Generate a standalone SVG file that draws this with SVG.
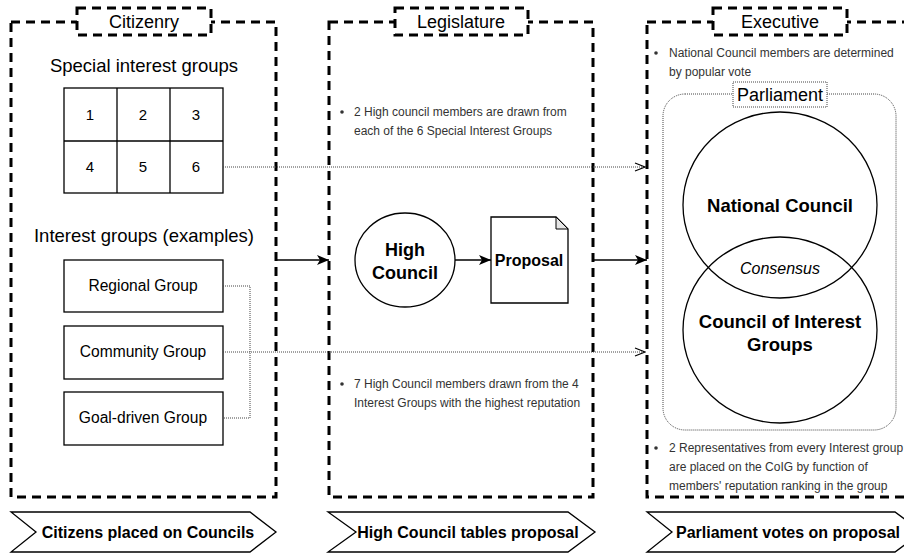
<svg xmlns="http://www.w3.org/2000/svg" width="904" height="553" viewBox="0 0 904 553">
<style>
text{font-family:"Liberation Sans",Arial,sans-serif;fill:#000}
.cont{fill:none;stroke:#000;stroke-width:3;stroke-dasharray:9 6}
.title{fill:#fff;stroke:#000;stroke-width:3;stroke-dasharray:9 6}
.tt{font-size:18px;text-anchor:middle}
.hd{font-size:18.5px;text-anchor:middle}
.box{fill:#fff;stroke:#000;stroke-width:1.3}
.lbl{font-size:15.6px;text-anchor:middle}
.num{font-size:15px;text-anchor:middle}
.note{font-size:12px;fill:#333}
.bold{font-weight:bold;text-anchor:middle}
.dot{fill:none;stroke:#444;stroke-width:1;stroke-dasharray:1 1}
.solid{fill:none;stroke:#000;stroke-width:1.3}
.chev{fill:#fff;stroke:#000;stroke-width:1.3}
.ct{font-size:16px;font-weight:bold;text-anchor:middle}
</style>
<defs>
<marker id="fill" viewBox="0 0 12 10" refX="12" refY="5" markerWidth="12" markerHeight="10" markerUnits="userSpaceOnUse" orient="auto">
<path d="M0,0 L12,5 L0,10 L3,5 Z" fill="#000"/>
</marker>
<marker id="open" viewBox="0 0 12 10" refX="11" refY="5" markerWidth="12" markerHeight="10" markerUnits="userSpaceOnUse" orient="auto">
<path d="M1,1 L11,5 L1,9" fill="none" stroke="#000" stroke-width="1.2"/>
</marker>
</defs>

<g id="citizenry">
<rect class="cont" x="11" y="22" width="265" height="475"/>
<rect class="title" x="77" y="8" width="134" height="27"/>
<text class="tt" x="144" y="28">Citizenry</text>
<text class="hd" x="144" y="72">Special interest groups</text>
<text class="hd" x="144" y="242">Interest groups (examples)</text>
</g>

<g id="sig-grid">
<rect class="box" x="64" y="88" width="159" height="105"/>
<line class="solid" x1="117" y1="88" x2="117" y2="193"/>
<line class="solid" x1="170" y1="88" x2="170" y2="193"/>
<line class="solid" x1="64" y1="141" x2="223" y2="141"/>
<text class="num" x="90" y="120">1</text>
<text class="num" x="143" y="120">2</text>
<text class="num" x="196" y="120">3</text>
<text class="num" x="90" y="172">4</text>
<text class="num" x="143" y="172">5</text>
<text class="num" x="196" y="172">6</text>
</g>

<g id="regional">
<rect class="box" x="64" y="260" width="159" height="52"/>
<text class="lbl" x="143" y="291">Regional Group</text>
</g>
<g id="community">
<rect class="box" x="64" y="326" width="159" height="53"/>
<text class="lbl" x="143" y="357">Community Group</text>
</g>
<g id="goal">
<rect class="box" x="64" y="392" width="159" height="53"/>
<text class="lbl" x="143" y="423">Goal-driven Group</text>
</g>

<g id="legislature">
<rect class="cont" x="329" y="22" width="264" height="475"/>
<rect class="title" x="395" y="8" width="133" height="27"/>
<text class="tt" x="461" y="28">Legislature</text>
<circle cx="342" cy="112" r="1.8" fill="#333"/>
<text class="note" x="354" y="116">2 High council members are drawn from</text>
<text class="note" x="354" y="135">each of the 6 Special Interest Groups</text>
<circle cx="342" cy="384" r="1.8" fill="#333"/>
<text class="note" x="354" y="388">7 High Council members drawn from the 4</text>
<text class="note" x="354" y="407">Interest Groups with the highest reputation</text>
</g>

<g id="high-council">
<ellipse class="box" cx="405" cy="260" rx="50" ry="47"/>
<text class="bold" x="405" y="256" font-size="18">High</text>
<text class="bold" x="405" y="279" font-size="18">Council</text>
</g>

<g id="proposal">
<path class="box" d="M491,217 L556,217 L568,229 L568,303 L491,303 Z"/>
<path d="M556,217 L556,229 L568,229 Z" fill="#e6e6e6" stroke="#000" stroke-width="1"/>
<text class="bold" x="529" y="266" font-size="16">Proposal</text>
</g>

<g id="executive">
<rect class="cont" x="647" y="22" width="266" height="475"/>
<rect class="title" x="713" y="8" width="134" height="27"/>
<text class="tt" x="780" y="28">Executive</text>
<circle cx="656" cy="53" r="1.8" fill="#333"/>
<text class="note" x="669" y="57">National Council members are determined</text>
<text class="note" x="669" y="76">by popular vote</text>
<circle cx="656" cy="448" r="1.8" fill="#333"/>
<text class="note" x="669" y="452">2 Representatives from every Interest group</text>
<text class="note" x="669" y="471">are placed on the CoIG by function of</text>
<text class="note" x="669" y="490">members' reputation ranking in the group</text>
</g>

<g id="parliament">
<rect x="663" y="94" width="233" height="336" rx="22" fill="none" stroke="#444" stroke-width="1" stroke-dasharray="1 1"/>
<rect x="733" y="82" width="94" height="25" fill="#fff" stroke="#444" stroke-width="1" stroke-dasharray="1 1"/>
<text class="tt" x="780" y="101">Parliament</text>
</g>

<g id="national-council">
<ellipse cx="780" cy="205" rx="97" ry="93" fill="none" stroke="#000" stroke-width="1.3"/>
<text class="bold" x="780" y="212" font-size="18.5">National Council</text>
</g>

<g id="coig">
<ellipse cx="780" cy="330" rx="97" ry="93" fill="none" stroke="#000" stroke-width="1.3"/>
<text class="bold" x="780" y="328" font-size="18.5">Council of Interest</text>
<text class="bold" x="780" y="351" font-size="18.5">Groups</text>
</g>

<g id="consensus">
<text x="780" y="274" font-size="16" font-style="italic" text-anchor="middle" fill="#222">Consensus</text>
</g>

<g id="connectors">
<path class="dot" d="M223,167 L645,167" marker-end="url(#open)"/>
<path class="dot" d="M223,286 L250,286 L250,418 L223,418"/>
<path class="dot" d="M223,352 L645,352" marker-end="url(#open)"/>
<path class="solid" d="M276,260 L329,260" marker-end="url(#fill)"/>
<path class="solid" d="M455,260 L491,260" marker-end="url(#fill)"/>
<path class="solid" d="M593,260 L647,260" marker-end="url(#fill)"/>
</g>

<g id="step1">
<polygon class="chev" points="11,512 250,512 276,532 250,552 11,552 36,532"/>
<text class="ct" x="148" y="538">Citizens placed on Councils</text>
</g>
<g id="step2">
<polygon class="chev" points="328,512 568,512 595,532 568,552 328,552 356,532"/>
<text class="ct" x="468" y="538">High Council tables proposal</text>
</g>
<g id="step3">
<polygon class="chev" points="647,512 895,512 922,532 895,552 647,552 672,532"/>
<text class="ct" x="788" y="538">Parliament votes on proposal</text>
</g>
</svg>
